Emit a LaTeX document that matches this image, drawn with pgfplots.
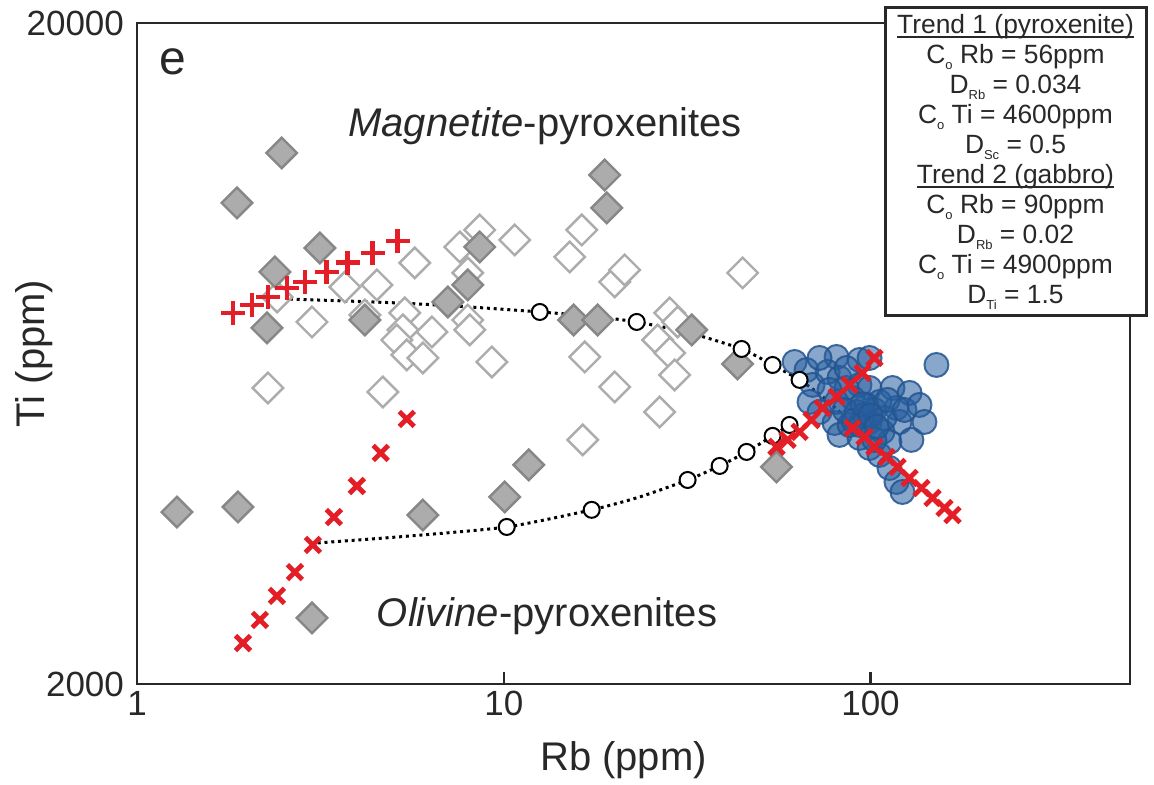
\documentclass[border=0pt]{standalone}
\usepackage{fontspec}
\setmainfont{Liberation Sans}
\usepackage{pgfplots}
\pgfplotsset{compat=1.18}
\definecolor{redm}{RGB}{228,30,38}
\definecolor{dgfill}{RGB}{172,172,172}
\definecolor{dgdraw}{RGB}{135,135,135}
\definecolor{lgdraw}{RGB}{172,172,172}
\definecolor{bluef}{RGB}{40,95,160}
\definecolor{blued}{RGB}{35,85,145}
\definecolor{axc}{RGB}{40,40,40}
\newcommand\sub[1]{\raisebox{-0.45ex}{\fontsize{6.5}{6.5}\selectfont #1}}
\newcommand\ul[1]{\setbox0\hbox{#1}\rlap{\rule[-2.2pt]{\wd0}{0.7pt}}\box0}
\begin{document}
\begin{tikzpicture}
\begin{axis}[
  xmode=log, ymode=log,
  scale only axis, width=496.5pt, height=330.5pt,
  xmin=1, xmax=510, ymin=2000, ymax=20000,
  xtick={1,10,100}, xticklabels={\mbox{1},\mbox{10},\mbox{100}},
  ytick={2000,20000}, yticklabels={\mbox{2000},\mbox{20000}},
  xminorticks=false, yminorticks=false,
  tick pos=left, tick align=inside, major tick length=6pt,
  axis line style={line width=1.3pt, draw=axc},
  tick style={line width=1.1pt, draw=axc},
  ticklabel style={font=\fontsize{17.5}{17.5}\selectfont, text=axc},
  yticklabel style={xshift=-3pt},
  xlabel={Rb (ppm)}, ylabel={Ti (ppm)},
  label style={font=\fontsize{20}{20}\selectfont, text=axc},
  xlabel style={at={(axis description cs:0.49,0)}, anchor=base, yshift=-43.5pt},
  ylabel style={at={(axis description cs:0,0.5)}, anchor=base, yshift=46pt},
  clip=false,
]
% open diamonds
\addplot[only marks, mark=square*, mark size=5.4pt, mark options={rotate=45, fill=white, draw=lgdraw, line width=1.2pt}] table {
8.60 9724
7.59 9164
10.71 9392
5.72 8670
3.69 7974
4.51 8030
7.98 8374
3.0 7058
4.18 7232
5.37 7284
5.31 6866
5.11 6628
6.37 6817
5.44 6292
6.02 6226
7.98 7106
8.08 6866
9.28 6140
2.275 5608
4.68 5530
16.32 9724
15.13 8851
20.07 8114
21.36 8460
44.8 8374
28.34 7284
29.8 7058
26.28 6628
28.34 6336
16.63 6248
29.24 5868
20.07 5628
16.42 4680
26.61 5158
2.41 7700
};
% filled diamonds
\addplot[only marks, mark=square*, mark size=5.4pt, mark options={rotate=45, fill=dgfill, draw=dgdraw, line width=1.2pt}] table {
2.48 12716
1.873 10686
3.152 9131
2.377 8402
2.261 6914
4.18 7106
7.04 7568
7.98 8030
8.60 9164
18.85 11776
19.09 10500
15.51 7106
18.04 7106
32.54 6866
43.4 6098
55.4 4260
1.285 3640
1.885 3706
6.016 3602
10.06 3837
11.70 4290
3.0 2517
};
% blue circles
\addplot[only marks, mark=*, mark size=6pt, mark options={fill=bluef, fill opacity=0.55, draw=blued, draw opacity=0.85, line width=1pt}] table {
62.1 6140
66.9 5970
80.8 6248
93.3 6182
99.4 6226
151.3 6076
69.5 5668
76.4 5930
82.3 5808
68.2 5342
72.6 5158
79.8 4964
82.3 4762
93.3 5668
99.4 5608
114.8 5608
127.8 5512
117.7 5230
105.8 5342
97.5 5286
89.3 5416
120.0 4982
129.3 4680
99.4 4982
93.3 4712
99.4 4550
105.8 4442
112.6 4244
117.7 4042
122.2 3904
87.67 4930
91.6 5158
80.8 5342
86.0 5608
107.8 4812
112.6 4646
86.0 6012
72.6 6226
96.3 5106
102.5 5194
109.2 5052
93.3 4930
102.5 4680
111.3 5380
84.97 5194
77.3 5570
123.8 5194
136.0 5286
140.3 4982
90.0 5000
95.0 5300
100.0 5100
104.0 4900
};
% dotted curves
\addplot[black, line width=1.5pt, dash pattern=on 1.5pt off 1.9pt, smooth, tension=0.4] table {
2.612 7646
5.207 7540
8.08 7436
12.54 7308
17.15 7206
23.04 7058
32.13 6792
44.52 6424
54.08 6076
64.06 5768
74.9 5416
88.8 4964
};
\addplot[black, line width=1.5pt, dash pattern=on 1.5pt off 1.9pt, smooth, tension=0.4] table {
3.11 3269
5.546 3349
10.19 3456
17.37 3668
23.48 3837
31.72 4070
38.79 4274
45.93 4488
54.08 4746
60.16 4930
};
% open circles
\addplot[only marks, mark=*, mark size=4pt, mark options={fill=white, draw=black, line width=1pt}] table {
12.54 7308
23.04 7058
44.52 6424
54.08 6076
64.06 5768
10.19 3456
17.37 3668
31.72 4070
38.79 4274
45.93 4488
54.08 4746
60.16 4930
};
% red plus (trend 1)
\addplot[only marks, mark=+, mark size=6pt, mark options={draw=redm, line width=2.4pt}] table {
1.827 7284
2.058 7488
2.275 7700
2.563 7946
2.87 8114
3.294 8402
3.757 8670
4.396 8977
5.142 9360
};
% red x lower left
\addplot[only marks, mark=x, mark size=5.3pt, mark options={draw=redm, line width=2.4pt}] table {
1.945 2306
2.163 2500
2.407 2718
2.695 2953
3.017 3246
3.442 3577
3.977 3986
4.62 4472
5.44 5034
};
% red x trend 2
\addplot[only marks, mark=x, mark size=5.3pt, mark options={draw=redm, line width=2.4pt}] table {
55.43 4568
59.4 4680
64.06 4812
69.07 5016
74.0 5230
80.8 5436
87.67 5668
95.1 5908
102.5 6226
89.3 4878
96.3 4728
102.5 4568
110.6 4410
118.5 4260
127.8 4098
137.7 3958
147.6 3824
159.1 3692
167.3 3602
};
% annotations
\node[anchor=base, font=\fontsize{20}{20}\selectfont, text=axc] at (rel axis cs:0.4109,0.8275) {\textit{Magnetite}-pyroxenites};
\node[anchor=base, font=\fontsize{20}{20}\selectfont, text=axc] at (rel axis cs:0.4129,0.0862) {\textit{Olivine}-pyroxenites};
\node[anchor=base, font=\fontsize{24}{24}\selectfont, text=axc] at (rel axis cs:0.0363,0.9213) {e};
\node[draw=axc, line width=1.5pt, fill=white, minimum width=130.5pt, minimum height=154pt, inner sep=0pt, align=center, text=axc, font=\fontsize{13.2}{15}\selectfont] at (rel axis cs:0.8847,0.7897) {\ul{Trend 1 (pyroxenite)}\\ C\sub{o} Rb = 56ppm\\ D\sub{Rb} = 0.034\\ C\sub{o} Ti = 4600ppm\\ D\sub{Sc} = 0.5\\ \ul{Trend 2 (gabbro)}\\ C\sub{o} Rb = 90ppm\\ D\sub{Rb} = 0.02\\ C\sub{o} Ti = 4900ppm\\ D\sub{Ti} = 1.5};
\end{axis}
\pgfresetboundingbox
\path ([shift={(-68.5pt,-50.5pt)}]current axis.south west) rectangle ([shift={(12pt,11.5pt)}]current axis.north east);
\end{tikzpicture}
\end{document}
